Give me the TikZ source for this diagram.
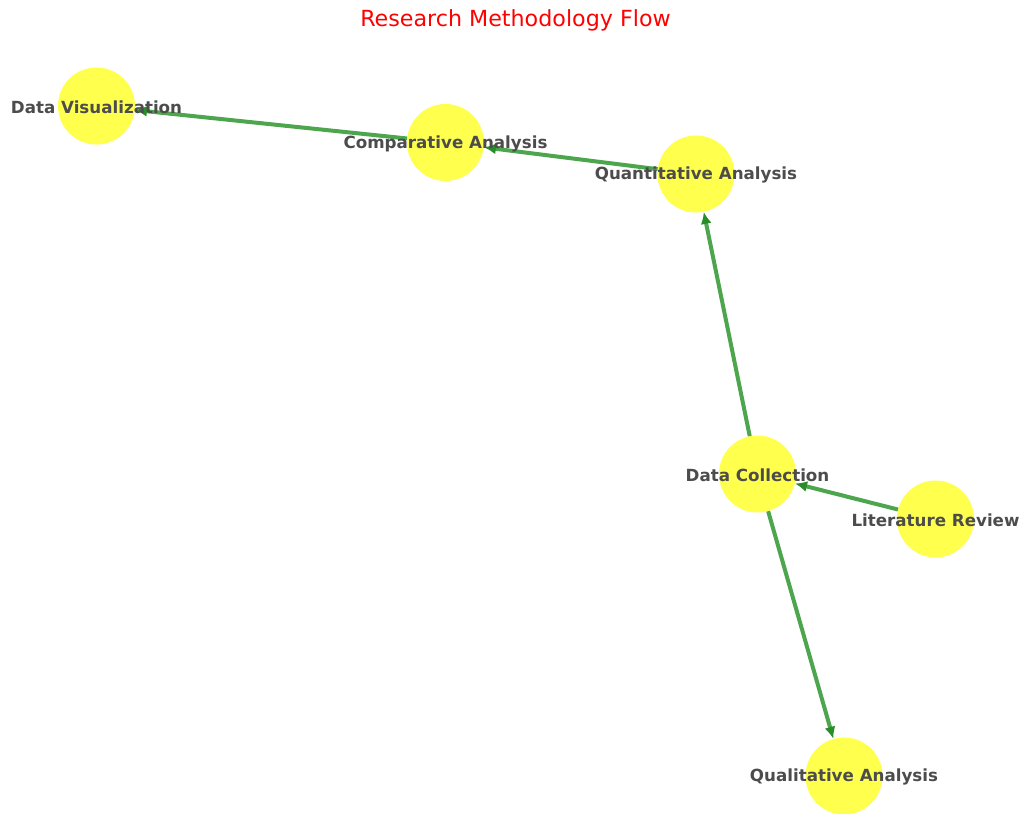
\documentclass[tikz,border=0pt]{standalone}
\usepackage{fontspec}
\setmainfont{DejaVu Sans}
\usetikzlibrary{arrows.meta}

\definecolor{node_yellow}{RGB}{255,255,77}
\definecolor{edge_green}{RGB}{77,166,77}
\definecolor{tip_green}{RGB}{40,140,40}

\begin{document}
\begin{tikzpicture}[
    x=1pt, y=-1pt,
    stage/.style={circle, fill=node_yellow, draw=none, inner sep=0pt,
                  minimum size=77pt},
    lbl/.style={text=black!70, font=\fontsize{16.7}{20}\selectfont\bfseries,
                inner sep=0pt, yshift=-1pt},
    flow/.style={-{Latex[length=12pt,width=11pt,fill=tip_green,color=tip_green]},
                 line width=4pt, edge_green}
]
    \useasboundingbox (0,0) rectangle (1021,814);

    % Title
    \node[text=red, font=\fontsize{22.2}{26}\selectfont] (title) at (515.5,20)
        {Research Methodology Flow};

    % Stages
    \node[stage] (vis)  at ( 96.5, 106) {};
    \node[stage] (comp) at (445.5, 142.5) {};
    \node[stage] (quan) at (696,   174) {};
    \node[stage] (coll) at (757.5, 474) {};
    \node[stage] (lit)  at (935.5, 519) {};
    \node[stage] (qual) at (844,   776) {};

    % Arrows between stages
    \draw[flow] (lit)  -- (coll);
    \draw[flow] (coll) -- (quan);
    \draw[flow] (coll) -- (qual);
    \draw[flow] (quan) -- (comp);
    \draw[flow] (comp) -- (vis);

    % Labels
    \node[lbl] (vis_l)  at (vis)  {Data Visualization};
    \node[lbl] (comp_l) at (comp) {Comparative Analysis};
    \node[lbl] (quan_l) at (quan) {Quantitative Analysis};
    \node[lbl] (coll_l) at (coll) {Data Collection};
    \node[lbl] (lit_l)  at (lit)  {Literature Review};
    \node[lbl] (qual_l) at (qual) {Qualitative Analysis};

\end{tikzpicture}
\end{document}
